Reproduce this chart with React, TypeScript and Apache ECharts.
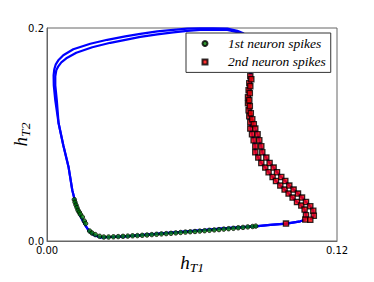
import React, { useEffect, useRef } from "react";
import * as echarts from "echarts";

// Limit-cycle trajectory: bottom/left part shared by both passes
const pathBottom: number[][] = [
  [0.10688, 0.01991], [0.10481, 0.0185], [0.09902, 0.01634], [0.0924, 0.01521], [0.08619, 0.0138],
  [0.07585, 0.01239], [0.06343, 0.01005], [0.05309, 0.00817], [0.04274, 0.00629], [0.0324, 0.00441],
  [0.02619, 0.00376], [0.02206, 0.00347], [0.01957, 0.00535], [0.0175, 0.00911], [0.01585, 0.01474],
  [0.01448, 0.02038], [0.01295, 0.02789], [0.01171, 0.03634], [0.01047, 0.04761], [0.00894, 0.0692],
  [0.00674, 0.08986], [0.0048, 0.11052],
];

const pathTopOuter: number[][] = [
  [0.00343, 0.13211], [0.00281, 0.1462], [0.00273, 0.15559], [0.00302, 0.16122], [0.00364, 0.16592],
  [0.00468, 0.16967], [0.00674, 0.17437], [0.01088, 0.18], [0.01792, 0.18517], [0.02495, 0.18892],
  [0.0324, 0.19221], [0.03861, 0.19456], [0.04564, 0.1969], [0.05226, 0.19831], [0.05806, 0.19944],
  [0.06343, 0.19972], [0.06881, 0.19972], [0.07461, 0.19944], [0.07875, 0.19737], [0.08123, 0.19502],
  [0.08288, 0.19127], [0.08392, 0.18376], [0.08412, 0.16967],
];

const pathTopInner: number[][] = [
  [0.00406, 0.13211], [0.00343, 0.1462], [0.00343, 0.15465], [0.00385, 0.16028], [0.00468, 0.16404],
  [0.00592, 0.16779], [0.00799, 0.17155], [0.01212, 0.17671], [0.01874, 0.18188], [0.02619, 0.1861],
  [0.0324, 0.18892], [0.03861, 0.19174], [0.04564, 0.19409], [0.05226, 0.19596], [0.05806, 0.19737],
  [0.06343, 0.19831], [0.06881, 0.1985], [0.07461, 0.19822], [0.07833, 0.19643], [0.08081, 0.19362],
  [0.08247, 0.18939], [0.08371, 0.18188], [0.08433, 0.16779],
];

// 2nd neuron spikes: two neighbouring passes
const redChainA: number[][] = [
  [0.08412, 0.15465], [0.08371, 0.14808], [0.08342, 0.1415], [0.08317, 0.13493], [0.08317, 0.1293],
  [0.08342, 0.12272], [0.08371, 0.11709], [0.08412, 0.11146], [0.08412, 0.10554], [0.08483, 0.10019],
  [0.08549, 0.09456], [0.08619, 0.08892], [0.08619, 0.08329], [0.08743, 0.07831], [0.08868, 0.07324],
  [0.09033, 0.06892], [0.0917, 0.06451], [0.09335, 0.06009], [0.09476, 0.05634], [0.09654, 0.05202],
  [0.09832, 0.04826], [0.09997, 0.04451], [0.10163, 0.04075], [0.10345, 0.03662], [0.10523, 0.03324],
  [0.10659, 0.02948], [0.10717, 0.02413], [0.10688, 0.02009],
];

const redChainB: number[][] = [
  [0.08454, 0.15183], [0.08412, 0.14526], [0.08392, 0.13869], [0.08371, 0.13211], [0.08392, 0.12648],
  [0.08433, 0.11991], [0.08495, 0.11427], [0.08557, 0.10958], [0.08619, 0.10554], [0.08714, 0.10019],
  [0.08785, 0.09456], [0.08868, 0.08892], [0.08909, 0.08329], [0.09075, 0.07831], [0.09211, 0.07324],
  [0.09377, 0.06892], [0.09517, 0.06451], [0.09695, 0.06009], [0.09861, 0.05634], [0.10026, 0.05202],
  [0.10204, 0.04826], [0.10386, 0.04451], [0.10552, 0.04075], [0.10717, 0.03662], [0.10895, 0.03258],
  [0.11019, 0.02836], [0.1104, 0.02366], [0.10895, 0.01991],
];

const redLoose: number[][] = [[0.09889, 0.01634]];

// 1st neuron spikes
const greenCluster: number[][] = [
  [0.0113, 0.03887], [0.01159, 0.03634], [0.012, 0.0338], [0.01241, 0.03136], [0.01283, 0.02883],
  [0.01337, 0.02695], [0.01378, 0.02507], [0.01461, 0.02254], [0.01543, 0.01878], [0.01597, 0.01634],
  [0.01763, 0.00939], [0.01862, 0.00751], [0.01999, 0.00601], [0.02177, 0.00441],
];

const greenBottom: number[][] = [
  [0.0235, 0.00376], [0.02549, 0.00376], [0.02748, 0.00394], [0.02946, 0.00413], [0.03145, 0.00441],
  [0.03343, 0.0046], [0.03542, 0.00488], [0.03741, 0.00507], [0.03939, 0.00535], [0.04138, 0.00563],
  [0.04337, 0.00601], [0.04535, 0.00629], [0.04734, 0.00667], [0.04932, 0.00695], [0.05131, 0.00723],
  [0.0533, 0.00761], [0.05528, 0.00798], [0.05727, 0.00836], [0.05925, 0.00864], [0.06124, 0.00892],
  [0.06323, 0.0093], [0.06521, 0.00967], [0.0672, 0.01005], [0.06919, 0.01042], [0.07117, 0.0107],
  [0.07316, 0.01117], [0.07514, 0.01155], [0.07713, 0.01192], [0.07912, 0.01239], [0.0811, 0.01277],
  [0.08309, 0.01324], [0.08507, 0.01362], [0.0864, 0.01399],
];

const xTicks = { min: 0, max: 0.12, interval: 0.12 };
const yTicks = { min: 0, max: 0.2, interval: 0.2 };
const legendNames = ["1st neuron spikes", "2nd neuron spikes"];

const serif = "Liberation Serif";

export default function App() {
  const ref = useRef<HTMLDivElement>(null);
  useEffect(() => {
    if (!ref.current) return;
    const chart = echarts.init(ref.current, undefined, { renderer: "svg" });
    const nameRich = {
      h: { fontFamily: serif, fontStyle: "italic", fontSize: 19, lineHeight: 24, color: "#000" },
      s: { fontFamily: serif, fontStyle: "italic", fontSize: 13.5, lineHeight: 10, verticalAlign: "bottom", color: "#000" },
    };
    chart.setOption({
      animation: false,
      backgroundColor: "#fff",
      grid: {
        left: 47, top: 28, width: 290, height: 213,
        containLabel: false, outerBoundsMode: "none",
        show: true, borderColor: "#666", borderWidth: 1,
      },
      legend: {
        orient: "vertical",
        left: 186,
        top: 33,
        padding: [3, 5, 3, 15.5],
        itemWidth: 5,
        itemHeight: 5,
        itemGap: 3.4,
        backgroundColor: "#fff",
        borderColor: "#333",
        borderWidth: 1,
        textStyle: {
          fontFamily: serif, fontStyle: "italic", fontSize: 13.5, lineHeight: 15, color: "#000",
          padding: [0, 0, 0, 15.5],
        },
        data: [
          { name: legendNames[0], icon: "circle" },
          { name: legendNames[1], icon: "rect" },
        ],
      },
      xAxis: {
        type: "value",
        min: xTicks.min,
        max: xTicks.max,
        interval: xTicks.interval,
        splitLine: { show: false },
        axisTick: { show: false },
        axisLine: { show: true, lineStyle: { color: "#666", width: 1 } },
        axisLabel: {
          fontFamily: "DejaVu Sans", fontSize: 10, color: "#000", margin: 4,
          formatter: (v: number) => v.toFixed(2),
        },
        name: "{h|h}{s|T1}",
        nameLocation: "middle",
        nameGap: 9,
        nameMoveOverlap: false,
        nameTextStyle: { rich: nameRich },
      },
      yAxis: {
        type: "value",
        min: yTicks.min,
        max: yTicks.max,
        interval: yTicks.interval,
        splitLine: { show: false },
        axisTick: { show: false },
        axisLine: { show: true, lineStyle: { color: "#666", width: 1 } },
        axisLabel: {
          fontFamily: "DejaVu Sans", fontSize: 10, color: "#000", margin: 3,
          formatter: (v: number) => v.toFixed(1),
        },
        name: "{h|h}{s|T2}",
        nameLocation: "middle",
        nameGap: 15,
        nameMoveOverlap: false,
        nameTextStyle: { rich: nameRich },
      },
      series: [
        {
          type: "line",
          data: [...pathBottom, ...pathTopOuter, ...redChainA],
          showSymbol: false,
          lineStyle: { color: "#0000ff", width: 2.2 },
          silent: true,
          z: 2,
        },
        {
          type: "line",
          data: [...pathBottom, ...pathTopInner, ...redChainB],
          showSymbol: false,
          lineStyle: { color: "#0000ff", width: 2.2 },
          silent: true,
          z: 2,
        },
        {
          name: legendNames[0],
          type: "scatter",
          symbol: "circle",
          symbolSize: 4.5,
          data: [...greenCluster, ...greenBottom],
          itemStyle: { color: "#008000", borderColor: "#000", borderWidth: 0.9 },
          z: 3,
        },
        {
          name: legendNames[1],
          type: "scatter",
          symbol: "rect",
          symbolSize: 5.2,
          data: [...redChainA, ...redChainB, ...redLoose],
          itemStyle: { color: "#ff0000", borderColor: "#000", borderWidth: 1.3 },
          z: 3,
        },
      ],
    });
    return () => chart.dispose();
  }, []);
  return <div ref={ref} style={{ position: "absolute", left: 0, top: 0, width: 374, height: 282 }} />;
}
